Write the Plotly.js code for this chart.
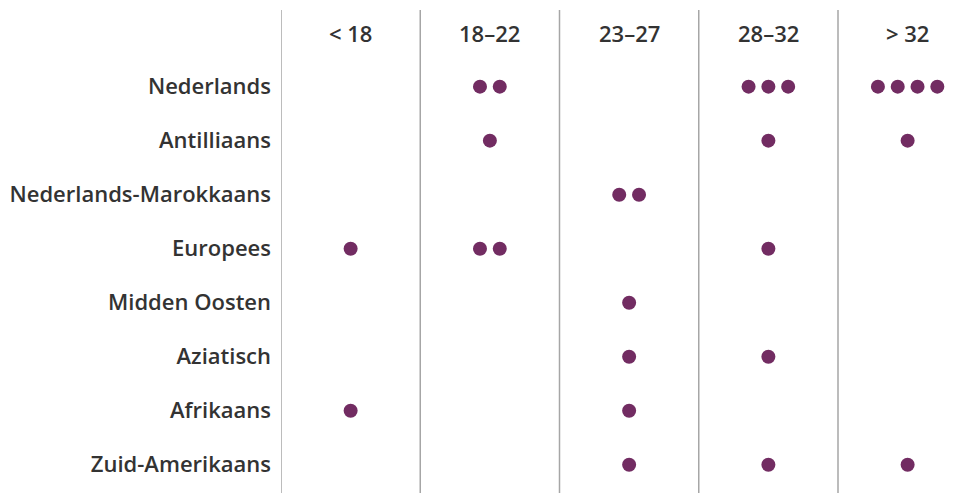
<!DOCTYPE html>
<html>
<head>
<meta charset="utf-8">
<script src="https://cdn.plot.ly/plotly-3.0.1.min.js"></script>
<style>html,body{margin:0;padding:0;background:#fff;}#chart{width:965px;height:493px;}</style>
</head>
<body>
<div id="chart"></div>
<script>
const categories = ["Nederlands", "Antilliaans", "Nederlands-Marokkaans", "Europees", "Midden Oosten", "Aziatisch", "Afrikaans", "Zuid-Amerikaans"];
const ageGroups = ["< 18", "18\u201322", "23\u201327", "28\u201332", "> 32"];
const countLt18   = [0, 0, 0, 1, 0, 0, 1, 0];
const count18_22  = [2, 1, 0, 2, 0, 0, 0, 0];
const count23_27  = [0, 0, 2, 0, 1, 1, 1, 1];
const count28_32  = [3, 1, 0, 1, 0, 1, 0, 1];
const countGt32   = [4, 1, 0, 0, 0, 0, 0, 1];
const counts = [countLt18, count18_22, count23_27, count28_32, countGt32];

const colW = 139.25;          // px per column
const plotW = 965 - 281;
const step = 19.8 / colW;     // dot spacing in data units

const xs = [], ys = [];
counts.forEach((col, gi) => {
  col.forEach((n, ri) => {
    for (let j = 0; j < n; j++) {
      xs.push(gi + 0.5 + (j - (n - 1) / 2) * step);
      ys.push(ri);
    }
  });
});

const fontFam = "'Open Sans', sans-serif";
const txtColor = "#333333";

const trace = {
  type: "scatter", mode: "markers", x: xs, y: ys,
  marker: {size: 14, color: "#722c62"},
  hoverinfo: "skip", showlegend: false
};

const shapes = [0, 1, 2, 3, 4].map(i => ({
  type: "line", xref: "x", yref: "paper", x0: i, x1: i, y0: 0, y1: 1,
  line: {color: "#a6a6a6", width: 1.5}
}));

const annotations = ageGroups.map((g, i) => ({
  x: i + 0.5, y: -1, xref: "x", yref: "y", text: g,
  showarrow: false, font: {family: fontFam, size: 22, weight: 600, color: txtColor}
}));

const layout = {
  width: 965, height: 493,
  margin: {l: 281, r: 0, t: 10, b: 0, pad: 0},
  paper_bgcolor: "#fff", plot_bgcolor: "#fff",
  xaxis: {range: [0, plotW / colW], showgrid: false, zeroline: false, showticklabels: false, ticks: "", showline: false, fixedrange: true},
  yaxis: {
    range: [7 + 28.2 / 54, -76.6 / 54], showgrid: false, zeroline: false, showline: false,
    tickvals: categories.map((c, i) => i), ticktext: categories,
    ticks: "", ticklabelstandoff: 9,
    tickfont: {family: fontFam, size: 22, weight: 600, color: txtColor}, fixedrange: true
  },
  shapes: shapes, annotations: annotations
};

Plotly.newPlot("chart", [trace], layout, {displayModeBar: false, staticPlot: true});
</script>
</body>
</html>
